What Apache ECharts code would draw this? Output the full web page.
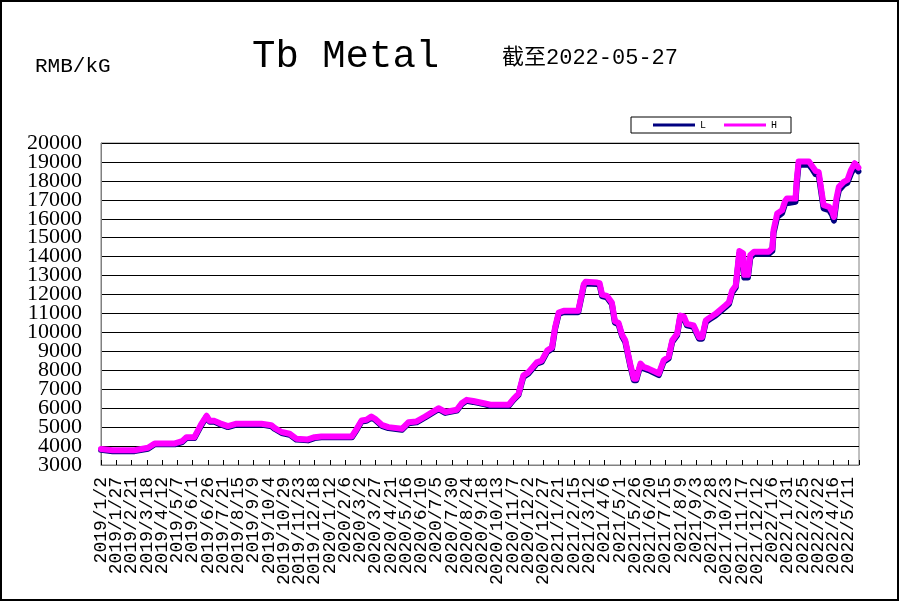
<!DOCTYPE html>
<html><head><meta charset="utf-8">
<script src="https://cdn.jsdelivr.net/npm/echarts/dist/echarts.min.js"></script>
<style>html,body{margin:0;padding:0;background:#fff}#c{width:900px;height:602px}</style>
</head><body><div id="c"></div>
<script>
const dates = ['2019/1/2','2019/1/21','2019/2/26','2019/3/20','2019/3/31','2019/5/3','2019/5/15','2019/5/22','2019/6/4','2019/6/15','2019/6/24','2019/6/29','2019/7/7','2019/7/16','2019/7/29','2019/8/12','2019/9/22','2019/10/8','2019/10/14','2019/10/25','2019/11/7','2019/11/18','2019/12/7','2019/12/18','2019/12/29','2020/2/17','2020/2/25','2020/3/4','2020/3/12','2020/3/20','2020/3/26','2020/4/6','2020/4/17','2020/5/9','2020/5/20','2020/6/2','2020/6/16','2020/7/2','2020/7/8','2020/7/19','2020/8/7','2020/8/15','2020/8/23','2020/9/3','2020/9/22','2020/10/1','2020/10/31','2020/11/8','2020/11/16','2020/11/24','2020/12/2','2020/12/16','2020/12/24','2021/1/2','2021/1/10','2021/1/15','2021/1/21','2021/1/29','2021/2/22','2021/3/3','2021/3/6','2021/3/25','2021/3/29','2021/4/2','2021/4/10','2021/4/18','2021/4/23','2021/4/29','2021/5/5','2021/5/10','2021/5/18','2021/5/24','2021/5/28','2021/6/4','2021/6/9','2021/6/17','2021/7/4','2021/7/12','2021/7/20','2021/7/26','2021/8/3','2021/8/8','2021/8/14','2021/8/19','2021/8/30','2021/9/8','2021/9/13','2021/9/19','2021/9/24','2021/10/5','2021/10/21','2021/10/27','2021/11/1','2021/11/7','2021/11/13','2021/11/19','2021/11/21','2021/11/27','2021/12/1','2021/12/7','2021/12/31','2022/1/6','2022/1/8','2022/1/14','2022/1/22','2022/1/27','2022/1/30','2022/2/13','2022/2/15','2022/2/18','2022/3/7','2022/3/13','2022/3/18','2022/3/23','2022/3/31','2022/4/9','2022/4/14','2022/4/17','2022/4/21','2022/4/25','2022/5/3','2022/5/9','2022/5/15','2022/5/21','2022/5/27'];
const highValues = [3850,3780,3780,3910,4140,4140,4260,4470,4470,5140,5600,5330,5330,5200,5050,5180,5180,5100,4950,4740,4650,4390,4350,4470,4510,4510,4910,5350,5385,5560,5440,5120,5000,4910,5260,5300,5560,5880,6000,5800,5920,6260,6440,6380,6250,6180,6180,6490,6750,7720,7890,8420,8510,9040,9210,10260,11050,11140,11140,12540,12670,12630,12600,12000,11930,11580,10600,10500,9860,9580,8350,7560,7560,8350,8180,8090,7830,8530,8700,9580,9930,10890,10840,10450,10370,9750,9750,10630,10750,10980,11420,11600,12200,12470,14300,14180,13040,13040,14090,14260,14260,14440,15400,16280,16450,16950,17070,17070,18050,19020,19020,18750,18520,18460,16720,16630,16370,16100,17070,17680,17950,18050,18580,18930,18700];
const lowValues = [3800,3730,3730,3860,4090,4090,4210,4420,4420,5080,5550,5280,5280,5150,5000,5130,5130,5050,4900,4690,4600,4340,4300,4420,4460,4460,4860,5300,5330,5500,5390,5070,4950,4860,5210,5250,5510,5830,5950,5750,5870,6210,6390,6330,6200,6130,6130,6440,6700,7650,7820,8350,8440,8970,9140,10180,10980,11070,11070,12450,12580,12550,12500,11920,11850,11500,10520,10420,9780,9500,8270,7480,7480,8270,8100,8010,7750,8450,8620,9500,9850,10800,10750,10370,10290,9670,9670,10550,10670,10900,11330,11500,12100,12370,14150,14050,12900,12900,13950,14150,14150,14300,15250,16100,16300,16800,16900,16900,17850,18850,18850,18600,18350,18300,16550,16450,16200,15900,16900,17500,17800,17900,18400,18750,18500];
const tickLabels = ['2019/1/2','2019/1/27','2019/2/21','2019/3/18','2019/4/12','2019/5/7','2019/6/1','2019/6/26','2019/7/21','2019/8/15','2019/9/9','2019/10/4','2019/10/29','2019/11/23','2019/12/18','2020/1/12','2020/2/6','2020/3/2','2020/3/27','2020/4/21','2020/5/16','2020/6/10','2020/7/5','2020/7/30','2020/8/24','2020/9/18','2020/10/13','2020/11/7','2020/12/2','2020/12/27','2021/1/21','2021/2/15','2021/3/12','2021/4/6','2021/5/1','2021/5/26','2021/6/20','2021/7/15','2021/8/9','2021/9/3','2021/9/28','2021/10/23','2021/11/17','2021/12/12','2022/1/6','2022/1/31','2022/2/25','2022/3/22','2022/4/16','2022/5/11'];
const yTicks = [3000,4000,5000,6000,7000,8000,9000,10000,11000,12000,13000,14000,15000,16000,17000,18000,19000,20000];
const seriesNames = ['L','H'];
const titleText = 'Tb Metal';
const unitText = 'RMB/kG';
const dateText = '截至2022-05-27';

const DAY = 86400000;
const origin = Date.UTC(2019, 0, 2);
function dayIndex(s) { const p = s.split('/').map(Number); return Math.round((Date.UTC(p[0], p[1]-1, p[2]) - origin) / DAY); }
const tickDays = tickLabels.map(dayIndex);
const labelByDay = {};
tickLabels.forEach((t, i) => { labelByDay[tickDays[i]] = t; });
const xEven = tickDays.filter((d, i) => i % 2 === 0);
const xOdd = tickDays.filter((d, i) => i % 2 === 1);
const yEven = yTicks.filter((v, i) => i % 2 === 0);
const yOdd = yTicks.filter((v, i) => i % 2 === 1);

const xLabel = (vals) => ({
  customValues: vals, rotate: 90, margin: 12, color: '#000', fontFamily: 'Liberation Mono', fontSize: 18,
  hideOverlap: false, formatter: v => labelByDay[Math.round(v)] || ''
});
const yLabel = (vals) => ({
  customValues: vals, color: '#000', fontFamily: 'Liberation Serif', fontSize: 22, margin: 19,
  hideOverlap: false, formatter: v => String(v)
});

const chart = echarts.init(document.getElementById('c'), null, {renderer: 'canvas'});
chart.setOption({
  animation: false,
  backgroundColor: '#fff',
  grid: {left: 101, top: 143, width: 758, height: 322, show: true, borderColor: '#808080', borderWidth: 1, backgroundColor: '#fff'},
  legend: {
    data: seriesNames, left: 631, top: 117, orient: 'horizontal',
    padding: [3, 14, 3, 22], itemGap: 18, itemWidth: 42, itemHeight: 3, icon: 'rect',
    borderColor: '#000', borderWidth: 1, backgroundColor: '#fff',
    textStyle: {fontFamily: 'Liberation Mono', fontSize: 10, color: '#000', lineHeight: 10}
  },
  xAxis: [
    {type: 'value', min: 0, max: 1242, interval: 25, position: 'bottom',
     axisLine: {show: true, lineStyle: {color: '#808080', width: 1}},
     axisTick: {show: true, inside: true, length: 5, lineStyle: {color: '#000'}},
     splitLine: {show: false}, axisLabel: xLabel(xEven)},
    {type: 'value', min: 0, max: 1242, interval: 25, position: 'bottom', offset: 0,
     axisLine: {show: false}, axisTick: {show: false}, splitLine: {show: false}, axisLabel: xLabel(xOdd)}
  ],
  yAxis: [
    {type: 'value', min: 3000, max: 20000, interval: 1000, position: 'left',
     axisLine: {show: true, lineStyle: {color: '#808080', width: 1}},
     axisTick: {show: false},
     splitLine: {show: true, lineStyle: {color: '#000', width: 1}},
     axisLabel: yLabel(yEven)},
    {type: 'value', min: 3000, max: 20000, interval: 1000, position: 'left', offset: 0,
     axisLine: {show: false}, axisTick: {show: false}, splitLine: {show: false}, axisLabel: yLabel(yOdd)}
  ],
  series: [
    {name: seriesNames[0], type: 'line', showSymbol: false, color: '#000080', xAxisIndex: 0, yAxisIndex: 0,
     lineStyle: {width: 6, color: '#000080', cap: 'round', join: 'round'},
     data: dates.map((d, i) => [dayIndex(d), lowValues[i]])},
    {name: seriesNames[1], type: 'line', showSymbol: false, color: '#ff00ff', xAxisIndex: 0, yAxisIndex: 0,
     lineStyle: {width: 6, color: '#ff00ff', cap: 'round', join: 'round'},
     data: dates.map((d, i) => [dayIndex(d), highValues[i]])}
  ],
  graphic: [
    {type: 'rect', silent: true, z: 100, shape: {x: 1, y: 1, width: 897, height: 599}, style: {fill: 'none', stroke: '#000', lineWidth: 2}},
    {type: 'text', left: 252, top: 37, style: {text: titleText, font: '39px "Liberation Mono"', fill: '#000'}},
    {type: 'text', left: 35, top: 56, style: {text: unitText, font: '21px "Liberation Mono"', fill: '#000'}},
    {type: 'text', left: 502, top: 47, style: {text: dateText, font: '22px "Liberation Mono", "Noto Sans CJK SC"', fill: '#000'}}
  ]
});
</script>
</body></html>
